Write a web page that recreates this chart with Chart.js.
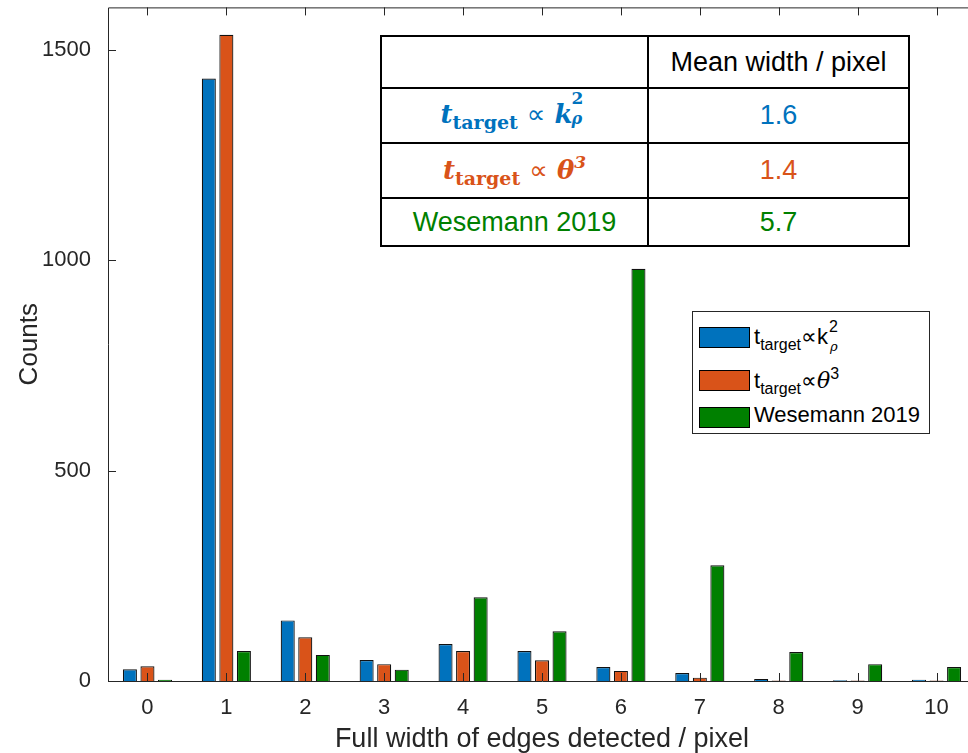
<!DOCTYPE html>
<html>
<head>
<meta charset="utf-8">
<script src="https://cdn.jsdelivr.net/npm/chart.js@4/dist/chart.umd.min.js"></script>
<style>
  body { margin: 0; background: #fff; overflow: hidden; width: 968px; height: 753px; position: relative; font-family: "Liberation Sans", Arial, sans-serif; }
  #wrap { position: absolute; left: 0; top: -6px; width: 980px; height: 759px; }
  #legend { position: absolute; left: 692px; top: 311px; width: 236px; height: 121px; border: 1px solid #262626; background: #fff; }
  .item { position: absolute; left: 6px; height: 22px; font-size: 22px; color: #000; white-space: nowrap; }
  .sw { position: absolute; left: 0; top: 0; width: 49px; height: 19px; border: 1px solid #000; }
  .lab { position: absolute; left: 55px; top: -5px; }
  .lab sub { font-size: 16px; vertical-align: -6px; }
  .lab sup { font-size: 16px; vertical-align: 9px; }
  .stack { display: inline-block; position: relative; width: 14px; height: 22px; vertical-align: baseline; }
  .stack .sp { position: absolute; left: 1px; top: -4px; font-size: 16px; }
  .stack .sb { position: absolute; left: 2px; top: 17px; font-size: 13px; font-style: italic; font-family: "DejaVu Serif", serif; }
  table { position: absolute; left: 380px; top: 35px; width: 530px; height: 212px; border-collapse: collapse; background: #fff; table-layout: fixed; }
  td { border: 2px solid #000; text-align: center; padding: 0; font-size: 27px; }
  .m { font-family: "DejaVu Serif", serif; font-weight: bold; font-style: italic; font-size: 26px; }
  .m .up { font-style: normal; font-size: 19px; vertical-align: -6px; }
  .m .pw { font-size: 17px; vertical-align: 11px; }
  .m .op { font-family: "DejaVu Sans", sans-serif; font-weight: normal; font-style: normal; font-size: 26px; }
  .kk { display: inline-block; position: relative; width: 34px; text-align: left; }
  .kk .s2 { position: absolute; left: 17px; top: -11px; font-size: 17px; font-style: normal; }
  .kk .sr { position: absolute; left: 17px; top: 10px; font-size: 16px; }
</style>
</head>
<body>
<div id="wrap"><canvas id="c" width="980" height="759"></canvas></div>

<table>
  <tr style="height:52px"><td style="width:265px"></td><td>Mean width / pixel</td></tr>
  <tr style="height:55px"><td class="m" style="color:#0072BD">t<span class="up">target</span> <span class="op">∝</span> <span class="kk">k<span class="s2">2</span><span class="sr">ρ</span></span></td><td style="color:#0072BD">1.6</td></tr>
  <tr style="height:55px"><td class="m" style="color:#D95319">t<span class="up">target</span> <span class="op">∝</span> θ<span class="pw">3</span></td><td style="color:#D95319">1.4</td></tr>
  <tr style="height:48px"><td style="color:#008000">Wesemann 2019</td><td style="color:#008000">5.7</td></tr>
</table>

<div id="legend">
  <div class="item" style="top:15px"><div class="sw" style="background:#0072BD"></div><div class="lab">t<sub>target</sub>∝k<span class="stack"><span class="sp">2</span><span class="sb">ρ</span></span></div></div>
  <div class="item" style="top:58px"><div class="sw" style="background:#D95319"></div><div class="lab">t<sub>target</sub>∝<i style="font-family:'DejaVu Serif',serif">θ</i><sup>3</sup></div></div>
  <div class="item" style="top:95px"><div class="sw" style="background:#008000"></div><div class="lab">Wesemann 2019</div></div>
</div>

<script>
const widths = ['0', '1', '2', '3', '4', '5', '6', '7', '8', '9', '10'];
const kRho = [28, 1431, 144, 50, 88, 71, 33, 19, 5, 2, 3];
const theta = [35, 1535, 104, 40, 71, 49, 24, 8, 1, 1, 1];
const wesemann = [3, 71, 62, 27, 199, 118, 979, 275, 69, 40, 33];
const yTicks = [0, 500, 1000, 1500];

const axisColor = '#262626';

// MATLAB style frame with inward ticks
const frame = {
    id: 'frame',
    afterDraw(chart) {
        const ctx = chart.ctx;
        const a = chart.chartArea;
        const x = chart.scales.x, y = chart.scales.y;
        ctx.save();
        ctx.strokeStyle = axisColor;
        ctx.lineWidth = 1;
        ctx.beginPath();
        ctx.rect(a.left + 0.5, a.top + 0.5, a.right - a.left, a.bottom - a.top);
        x.ticks.forEach((t, i) => {
            const px = Math.round(x.getPixelForTick(i)) + 0.5;
            ctx.moveTo(px, a.bottom); ctx.lineTo(px, a.bottom - 8);
            ctx.moveTo(px, a.top); ctx.lineTo(px, a.top + 8);
        });
        yTicks.forEach(v => {
            const py = Math.round(y.getPixelForValue(v)) + 0.5;
            ctx.moveTo(a.left, py); ctx.lineTo(a.left + 8, py);
        });
        ctx.stroke();
        ctx.restore();
    }
};

new Chart(document.getElementById('c'), {
    type: 'bar',
    data: {
        labels: widths,
        datasets: [{
            label: 't_target ∝ k_ρ^2',
            data: kRho,
            backgroundColor: '#0072BD',
        }, {
            label: 't_target ∝ θ^3',
            data: theta,
            backgroundColor: '#D95319',
        }, {
            label: 'Wesemann 2019',
            data: wesemann,
            backgroundColor: '#008000',
        }]
    },
    options: {
        responsive: false,
        animation: false,
        layout: { padding: { top: 3, right: 4 } },
        datasets: {
            bar: {
                borderColor: '#111',
                borderWidth: 1.2,
                categoryPercentage: 0.667,
                barPercentage: 0.8,
            }
        },
        plugins: {
            legend: { display: false },
            tooltip: { enabled: false },
        },
        scales: {
            x: {
                grid: { display: false },
                border: { display: false },
                ticks: { color: axisColor, font: { family: 'Liberation Sans', size: 22 }, padding: 6 },
                title: {
                    display: true,
                    text: 'Full width of edges detected / pixel',
                    color: axisColor,
                    font: { family: 'Liberation Sans', size: 27 },
                    padding: { top: 0, bottom: -3 },
                },
                afterFit: s => { s.height = 72; },
            },
            y: {
                min: 0,
                max: 1600,
                afterBuildTicks: s => { s.ticks = yTicks.map(v => ({ value: v })); },
                grid: { display: false },
                border: { display: false },
                ticks: {
                    color: axisColor,
                    font: { family: 'Liberation Sans', size: 22, lineHeight: 0.4 },
                    padding: 9,
                    callback: v => String(v),
                },
                title: {
                    display: true,
                    text: 'Counts',
                    color: axisColor,
                    font: { family: 'Liberation Sans', size: 26 },
                    padding: { top: 14, bottom: 4 },
                },
                afterFit: s => { s.width = 108; },
            }
        }
    },
    plugins: [frame]
});
</script>
</body>
</html>
